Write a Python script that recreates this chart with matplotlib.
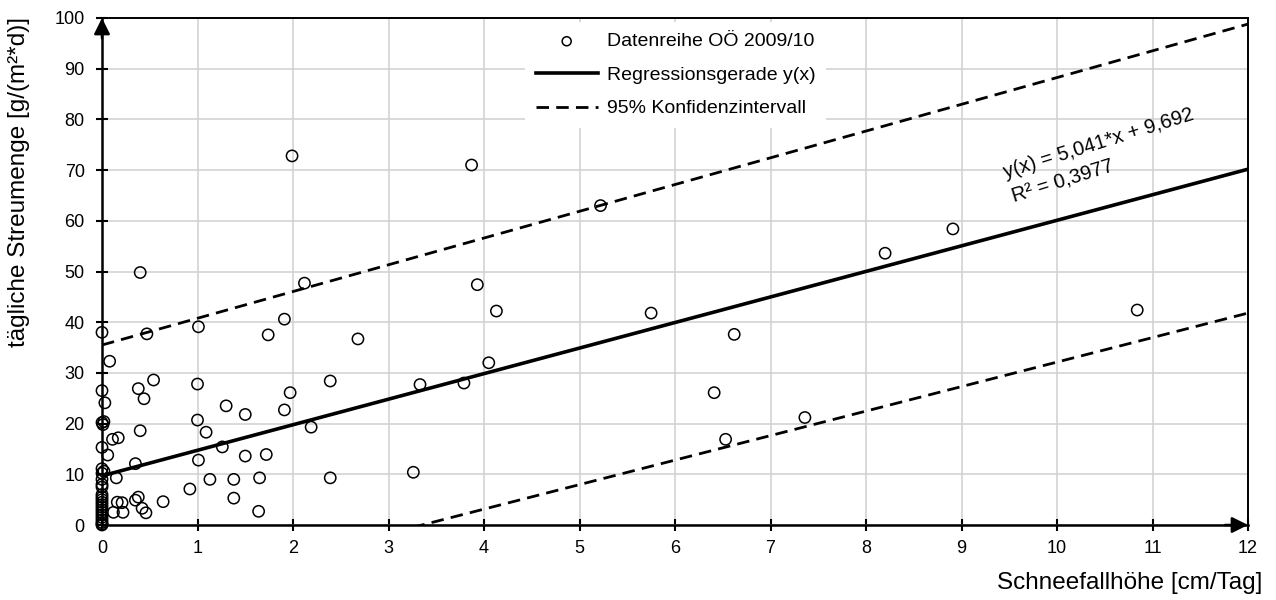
import matplotlib
matplotlib.use("Agg")
import matplotlib.pyplot as plt

plt.rcParams['font.family'] = ['Liberation Sans', 'DejaVu Sans']

# ---- data ----
snow_x = [1.99, 3.87, 5.22, 8.20, 8.91, 10.84, 5.75, 6.62, 6.41, 6.53, 7.36,
          3.93, 4.13, 4.05, 3.79, 3.33, 3.26, 2.68, 2.39, 2.39, 2.19, 2.12,
          1.91, 1.97, 1.91, 1.74, 1.01, 1.00, 1.30, 1.50, 1.00, 1.09, 1.26,
          1.50, 1.72, 1.01, 1.13, 1.38, 1.65, 0.92, 1.38, 1.64, 0.64, 0.40,
          0.47, 0.08, 0.54, 0.38, 0.44, 0.40, 0.11, 0.17, 0.06, 0.35, 0.15,
          0.35, 0.38, 0.16, 0.21, 0.12, 0.22, 0.42, 0.46, 0.03, 0.02,
          0.00, 0.00, 0.00, 0.01, 0.02, 0.00, 0.00, 0.00, 0.00, 0.00, 0.00,
          0.00, 0.00, 0.00, 0.00, 0.00, 0.00, 0.00, 0.00, 0.00, 0.00, 0.00,
          0.00, 0.00, 0.00]
spread_y = [72.8, 71.0, 63.0, 53.6, 58.4, 42.4, 41.8, 37.6, 26.1, 16.9, 21.2,
            47.4, 42.2, 32.0, 28.0, 27.7, 10.4, 36.7, 28.4, 9.3, 19.3, 47.7,
            40.6, 26.1, 22.7, 37.5, 39.1, 27.8, 23.5, 21.8, 20.7, 18.3, 15.4,
            13.6, 13.9, 12.8, 9.0, 9.0, 9.3, 7.1, 5.3, 2.7, 4.6, 49.8,
            37.7, 32.3, 28.6, 26.9, 24.9, 18.6, 16.9, 17.2, 13.8, 12.1, 9.3,
            4.9, 5.5, 4.5, 4.4, 2.5, 2.5, 3.3, 2.4, 24.1, 10.6,
            38.0, 26.5, 20.2, 19.8, 20.4, 15.3, 11.1, 10.2, 9.0, 8.0, 7.5,
            6.0, 5.5, 5.0, 4.5, 4.0, 3.5, 3.0, 2.5, 2.0, 1.5, 1.0,
            0.5, 0.2, 0.0]

line_x = [0, 12]
reg_y = [9.692, 70.18]
ci_upper = [35.5, 98.8]
ci_lower = [-16.2, 41.8]

x_ticks = list(range(0, 13))
y_ticks = list(range(0, 101, 10))

label_points = "Datenreihe OÖ 2009/10"
label_reg = "Regressionsgerade y(x)"
label_ci = "95% Konfidenzintervall"
eq_text = "y(x) = 5,041*x + 9,692"
r2_text = "R² = 0,3977"
xlabel = "Schneefallhöhe [cm/Tag]"
ylabel = "tägliche Streumenge [g/(m²*d)]"

# ---- figure ----
W, H = 1276, 600
fig = plt.figure(figsize=(W / 100, H / 100), dpi=100)
ax = fig.add_axes([102 / W, 75 / H, 1146 / W, 507 / H])

ax.set_xlim(0, 12)
ax.set_ylim(0, 100)
ax.set_xticks(x_ticks)
ax.set_yticks(y_ticks)
ax.grid(True, color='#d0d0d0', lw=1.1)
ax.set_axisbelow(True)

dash = (0, (4.5, 2.6))
ax.plot(line_x, ci_upper, color='black', lw=2.0, linestyle=dash, label=label_ci, zorder=3)
ax.plot(line_x, ci_lower, color='black', lw=2.0, linestyle=dash, zorder=3)
ax.plot(line_x, reg_y, color='black', lw=2.6, label=label_reg, zorder=3)
ax.scatter(snow_x, spread_y, s=66, facecolors='none', edgecolors='black',
           linewidths=1.1, label=label_points, zorder=4, clip_on=False)

for side in ('left', 'bottom'):
    ax.spines[side].set_linewidth(1.8)
for side in ('top', 'right'):
    ax.spines[side].set_linewidth(1.4)

ax.tick_params(axis='both', direction='inout', length=9, width=1.5, labelsize=13)
ax.tick_params(axis='y', pad=8)
ax.tick_params(axis='x', pad=6)

# axis arrows
ax.annotate('', xy=(0, 1.0), xytext=(0, 0.96), xycoords='axes fraction',
            arrowprops=dict(arrowstyle='-|>', color='black', lw=1.8, mutation_scale=24,
                            shrinkA=0, shrinkB=0))
ax.annotate('', xy=(1.0, 0), xytext=(0.98, 0), xycoords='axes fraction',
            arrowprops=dict(arrowstyle='-|>', color='black', lw=1.8, mutation_scale=24,
                            shrinkA=0, shrinkB=0))

# equation text
ax.text(9.466, 68.4, eq_text, fontsize=14.5, rotation=17.3, rotation_mode='anchor',
        ha='left', va='baseline', zorder=5)
ax.text(9.55, 63.5, r2_text, fontsize=14.5, rotation=17.3, rotation_mode='anchor',
        ha='left', va='baseline', zorder=5)

# legend
h, l = ax.get_legend_handles_labels()
order = [l.index(label_points), l.index(label_reg), l.index(label_ci)]
leg = ax.legend([h[i] for i in order], [l[i] for i in order],
                loc='upper left', bbox_to_anchor=(0.369, 0.992), borderaxespad=0,
                fontsize=14, frameon=True, fancybox=False, framealpha=1,
                facecolor='white', edgecolor='none', handlelength=3.2,
                handletextpad=0.45, labelspacing=0.82, borderpad=0.55,
                markerscale=0.8)
leg.set_zorder(6)

# axis titles
fig.text(19 / W, 1 - 182 / H, ylabel, rotation=90, ha='center', va='center', fontsize=17.5)
fig.text(1262 / W, 1 - 583 / H, xlabel, ha='right', va='center', fontsize=17.5)

fig.savefig('out.png', dpi=100, facecolor='white')
